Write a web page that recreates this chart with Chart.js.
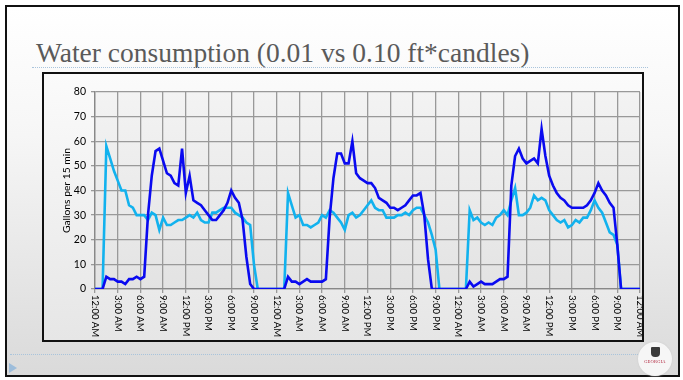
<!DOCTYPE html>
<html>
<head>
<meta charset="utf-8">
<script src="https://cdn.jsdelivr.net/npm/chart.js@4.4.0/dist/chart.umd.min.js"></script>
<style>
  html, body { margin: 0; padding: 0; background: #fff; }
  body { width: 683px; height: 380px; position: relative; overflow: hidden; font-family: Lato, sans-serif; }
  .slide { position: absolute; left: 5px; top: 5px; width: 675px; height: 372px; box-sizing: border-box;
           border: 2px solid #111; background: linear-gradient(#ffffff 0%, #f6f6f6 35%, #dadada 100%); }
  .title { position: absolute; left: 36px; top: 37px; font-family: "Liberation Serif", serif; font-size: 27.5px;
           color: #5a5a5a; white-space: nowrap; }
  .rule { position: absolute; left: 32px; width: 616px; top: 67px; border-top: 1px dotted #a9c4dc; }
  .rule.low { left: 10px; width: 630px; top: 354px; }
  .box { position: absolute; left: 42px; top: 72px; width: 602px; height: 270px; box-sizing: border-box;
         border: 2px solid #111; background: linear-gradient(#fbfbfb, #e6e6e6); }
  .box canvas { display: block; }
  .arrow { position: absolute; left: 9px; top: 363px; width: 0; height: 0;
           border-top: 5px solid transparent; border-bottom: 5px solid transparent; border-left: 8px solid #9dbddb; }
  .logo { position: absolute; left: 638px; top: 342px; width: 34px; height: 34px; border-radius: 50%;
          background: #f6f6f6; box-shadow: 0 0 2px #c8c8c8; text-align: center; font-family: "Liberation Serif", serif; }
  .logo .crest { width: 9px; height: 10px; margin: 5px auto 2px; background: #3a3a3a; border-radius: 1px 1px 4px 4px; }
  .logo .name { font-size: 4.5px; color: #b0203a; line-height: 5px; letter-spacing: 0.2px; }
</style>
</head>
<body>
<div class="slide"></div>
<div class="title">Water consumption (0.01 vs 0.10 ft*candles)</div>
<div class="rule"></div>
<div class="box"><canvas id="water-chart" width="598" height="266"></canvas></div>
<div class="rule low"></div>
<div class="arrow"></div>
<div class="logo"><div class="crest"></div><div class="name">GEORGIA</div></div>
<script>
// Gallons per 15 min, sampled every half hour, one array per day (00:00 .. 23:30)
const dimDay1 = [0,0,0,5,4,4,3,3,2,4,4,5, 4,5,30,46,56,57,52,47,46,43,42,57,
                 39,46,36,35,34,32,30,28,28,30,32,35, 40,37,35,28,13,2,0,0,0,0,0,0];
const dimDay2 = [0,0,0,5,3,3,2,3,4,3,3,3, 3,4,29,45,55,55,51,51,60,47,45,44,
                 43,43,41,37,36,35,33,33,32,33,34,36, 38,38,39,30,12,0,0,0,0,0,0,0];
const dimDay3 = [0,0,0,3,1,2,3,2,2,2,3,4, 4,5,42,54,57,53,51,52,53,51,65,54,
                 46,42,39,37,36,34,33,33,33,33,34,36, 39,43,40,38,35,33,18,0,0,0,0,0];

const brightDay1 = [0,0,0,58,53,48,44,40,40,34,33,30, 30,30,28,31,30,24,29,26,26,27,28,28,
                    29,30,29,31,28,27,27,31,31,32,33,33, 33,31,30,29,27,26,10,0,0,0,0,0];
const brightDay2 = [0,0,0,39,34,29,30,26,26,25,26,27, 30,29,32,31,29,27,24,30,31,29,30,32,
                    34,36,33,32,32,29,29,29,30,30,31,30, 32,33,33,30,27,22,16,0,0,0,0,0];
const brightDay3 = [0,0,0,32,28,29,27,26,27,26,29,30, 32,30,36,41,30,30,31,33,38,36,37,36,
                    32,30,28,27,28,25,26,28,27,29,29,32, 36,33,31,27,23,22,18,0,0,0,0,0];
const endOfRun = [0];

const dayTicks = ['12:00 AM','3:00 AM','6:00 AM','9:00 AM','12:00 PM','3:00 PM','6:00 PM','9:00 PM'];
const timeLabels = [...dayTicks, ...dayTicks, ...dayTicks, '12:00 AM'];

const toPoints = vals => vals.map((v, i) => ({ x: i * 0.5, y: v }));
const dimSeries = toPoints([...dimDay1, ...dimDay2, ...dimDay3, ...endOfRun]);
const brightSeries = toPoints([...brightDay1, ...brightDay2, ...brightDay3, ...endOfRun]);

// shaded plot background
const plotShade = {
  id: 'plotShade',
  beforeDraw(chart) {
    const { ctx, chartArea: a } = chart;
    const g = ctx.createLinearGradient(0, a.top, 0, a.bottom);
    g.addColorStop(0, '#f3f3f3');
    g.addColorStop(1, '#e3e3e3');
    ctx.save();
    ctx.fillStyle = g;
    ctx.fillRect(a.left, a.top, a.right - a.left, a.bottom - a.top);
    ctx.restore();
  }
};

// time labels run downwards below the axis
const downLabels = {
  id: 'downLabels',
  afterDraw(chart) {
    const x = chart.scales.x, ctx = chart.ctx;
    ctx.save();
    ctx.font = '9.5px Lato';
    ctx.fillStyle = '#000';
    ctx.textBaseline = 'middle';
    ctx.textAlign = 'left';
    x.ticks.forEach(t => {
      const label = timeLabels[Math.round(t.value / 3)];
      ctx.save();
      ctx.translate(x.getPixelForValue(t.value), x.top + 6);
      ctx.rotate(Math.PI / 2);
      ctx.fillText(label, 0, 0);
      ctx.restore();
    });
    ctx.restore();
  }
};

new Chart(document.getElementById('water-chart'), {
  type: 'line',
  data: {
    datasets: [{
      label: '0.01 ft*candles',
      data: dimSeries,
      borderColor: '#0a0af0',
      borderWidth: 2.6,
      pointRadius: 0,
      tension: 0,
      fill: false
    }, {
      label: '0.10 ft*candles',
      data: brightSeries,
      borderColor: '#12b2ee',
      borderWidth: 2.6,
      pointRadius: 0,
      tension: 0,
      fill: false
    }]
  },
  options: {
    responsive: false,
    animation: false,
    events: [],
    layout: { padding: { top: 18, right: 2, left: 0, bottom: 0 } },
    plugins: { legend: { display: false }, tooltip: { enabled: false } },
    scales: {
      x: {
        type: 'linear',
        min: 0,
        max: 72,
        ticks: { stepSize: 3, display: false },
        grid: { color: '#999', lineWidth: 1.3, tickLength: 4 },
        border: { color: '#888', width: 1.3 },
        afterFit: s => { s.height = 51; }
      },
      y: {
        min: 0,
        max: 80,
        ticks: { stepSize: 10, color: '#000', font: { family: 'Lato', size: 10.5 }, padding: 5 },
        grid: { color: '#999', lineWidth: 1.3, tickLength: 4 },
        border: { color: '#888', width: 1.3 },
        title: { display: true, text: 'Gallons per 15 min', color: '#000',
                 font: { family: 'Lato', size: 10.3 }, padding: { top: 16, bottom: 0 } },
        afterFit: s => { s.width = 51; }
      }
    }
  },
  plugins: [plotShade, downLabels]
});
</script>
</body>
</html>
